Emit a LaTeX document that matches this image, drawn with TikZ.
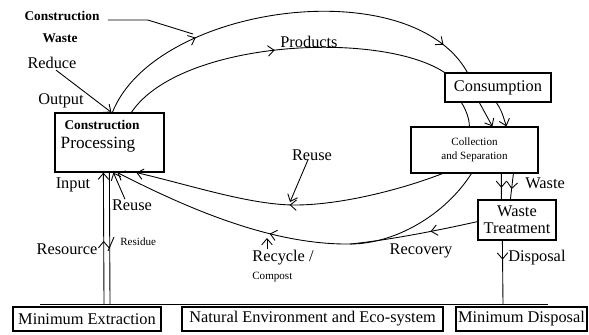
\documentclass[tikz,border=0pt]{standalone}
\usepackage{fontspec}
\setmainfont{Liberation Serif}
\usetikzlibrary{arrows.meta,calc,decorations.markings}

\tikzset{
	box/.style={draw, line width=0.7pt, inner sep=0pt},
	lbl/.style={font=\fontsize{9.3}{9.6}\selectfont, inner sep=0pt},
	small lbl/.style={font=\fontsize{6.3}{8}\selectfont, inner sep=0pt},
	bold lbl/.style={font=\fontsize{7.6}{9}\selectfont\bfseries, inner sep=0pt},
	flow/.style={line width=0.5pt},
	arr/.style={-{Straight Barb[length=3.5pt,width=6pt]}},
	midtip/.style={postaction={decorate, decoration={markings,
		mark=at position #1 with {\arrow{Straight Barb[length=3.5pt,width=6pt]}}}}},
}

\begin{document}
\begin{tikzpicture}[x=0.02cm, y=-0.02cm]
	\useasboundingbox (0,0) rectangle (589,335);

	% boxes
	\node[box, minimum width=2.18cm, minimum height=1.18cm] (proc) at (109.5,142.5) {};
	\node[bold lbl] (proca) at (102,125) {Construction};
	\node[lbl, font=\fontsize{9.8}{10}\selectfont] (procb) at (98,145) {Processing};
	\node[box, lbl, minimum width=2.12cm, minimum height=0.58cm] (cons) at (498,87.5) {Consumption};
	\node[box, small lbl, align=center, minimum width=2.54cm, minimum height=0.92cm] (coll) at (474.5,150) {Collection\\and Separation};
	\node[box, lbl, align=center, minimum width=1.56cm, minimum height=0.8cm] (treat) at (517,220) {Waste\\Treatment};
	\node[box, lbl, minimum width=2.96cm, minimum height=0.48cm] (ext) at (87,319) {Minimum Extraction};
	\node[box, lbl, minimum width=5.22cm, minimum height=0.48cm] (nat) at (312.5,319) {Natural Environment and Eco-system};
	\node[box, lbl, minimum width=2.62cm, minimum height=0.48cm] (disp) at (521.5,319) {Minimum Disposal};

	% labels
	\node[bold lbl] (cwa) at (62,16) {Construction};
	\node[bold lbl] (cwb) at (60,38) {Waste};
	\node[lbl] (reduce) at (52,63) {Reduce};
	\node[lbl] (output) at (61,101) {Output};
	\node[lbl] (products) at (309,42) {Products};
	\node[lbl] (input) at (73,185) {Input};
	\node[lbl] (reusea) at (132,205) {Reuse};
	\node[lbl] (resource) at (67,249) {Resource};
	\node[small lbl, anchor=west] (residue) at (120,242) {Residue};
	\node[lbl] (reuseb) at (312,155) {Reuse};
	\node[lbl, anchor=west] (recycle) at (252,258) {Recycle /};
	\node[small lbl, anchor=west] (compost) at (252,277) {Compost};
	\node[lbl] (recovery) at (421,251) {Recovery};
	\node[lbl, anchor=west] (waste) at (525,183) {Waste};
	\node[lbl, anchor=west] (disposal) at (508,258) {Disposal};

	\coordinate (gl) at (40,304);
	\coordinate (gr) at (548,304);
	\coordinate (cwend) at (193,34);
	\coordinate (mergept) at (350,244);
	\coordinate (reusept) at (295,205);
	\coordinate (reusetip) at (290,202);
	\coordinate (recytip) at (267,238);

	\draw[flow] (gl) -- (gr);

	% resource and residue
	\draw[flow, arr, midtip=0.48] ($(gl)+(64,0)$) -- ($(proc.south west)+(49,0)$);
	\draw[flow] ($(gl)+(70,0)$) -- ($(proc.south west)+(55,0)$);
	\draw[flow] (108,251) -- (114,237);
	\draw[flow, arr] ($(reusea.north)+(-7,0)$) -- ($(proc.south west)+(59,0)$);

	% top arcs
	\draw[flow, midtip=0.28, midtip=0.91] ($(proc.north west)+(58,0)$)
		.. controls (155,5) and (410,-30) .. ($(cons.north west)+(23,0)$);
	\draw[flow] ($(cwa.east)+(8,4)$) -- ++(40,0) -- (cwend);
	\draw[flow, midtip=0.48] ($(proc.north west)+(77,0)$)
		.. controls (180,40) and (380,30) .. (cons.north west);
	\draw[flow, arr] ($(reduce.south)+(4,1)$) -- ($(proc.north west)+(57,0)$);

	% consumption to collection
	\draw[flow] ($(cons.south west)+(17,0)$) .. controls +(4,6) and +(0,-8) .. ($(coll.north west)+(59,0)$);
	\draw[flow, arr] ($(cons.south west)+(35,0)$) -- ($(coll.north west)+(82,0)$);
	\draw[flow, arr] ($(cons.south west)+(52,0)$) .. controls +(5,8) .. ($(coll.north west)+(96,0)$);

	% collection to treatment, disposal
	\draw[flow, midtip=0.55] ($(coll.south west)+(91,0)$) -- ($(treat.north west)+(24,0)$);
	\draw[flow, midtip=0.6] ($(coll.south west)+(103,0)$) -- ($(treat.north west)+(33,0)$);
	\draw[flow, midtip=0.3] ($(treat.south west)+(25,0)$) -- ($(gl)+(463,0)$);

	% recovery, recycle, reuse
	\draw[flow, midtip=0.37] ($(treat.south west)+(0,-19)$)
		.. controls (440,230) and (390,240) .. (mergept);
	\draw[flow, arr, midtip=0.58] ($(coll.south west)+(61,0)$)
		.. controls (445,215) and (395,244) .. (mergept)
		.. controls (270,245) and (185,207) .. ($(proc.south west)+(63,0)$);
	\draw[flow, arr, midtip=0.5] ($(coll.south west)+(32,0)$)
		.. controls (400,190) and (340,205) .. (reusept)
		.. controls (250,205) and (190,185) .. ($(proc.south west)+(82,0)$);
	\draw[flow, arr] ($(reuseb.south)+(-4,-1)$) -- (reusetip);
	\draw[flow, arr] ($(recycle.north west)+(15,-1)$) -- (recytip);

\end{tikzpicture}
\end{document}
